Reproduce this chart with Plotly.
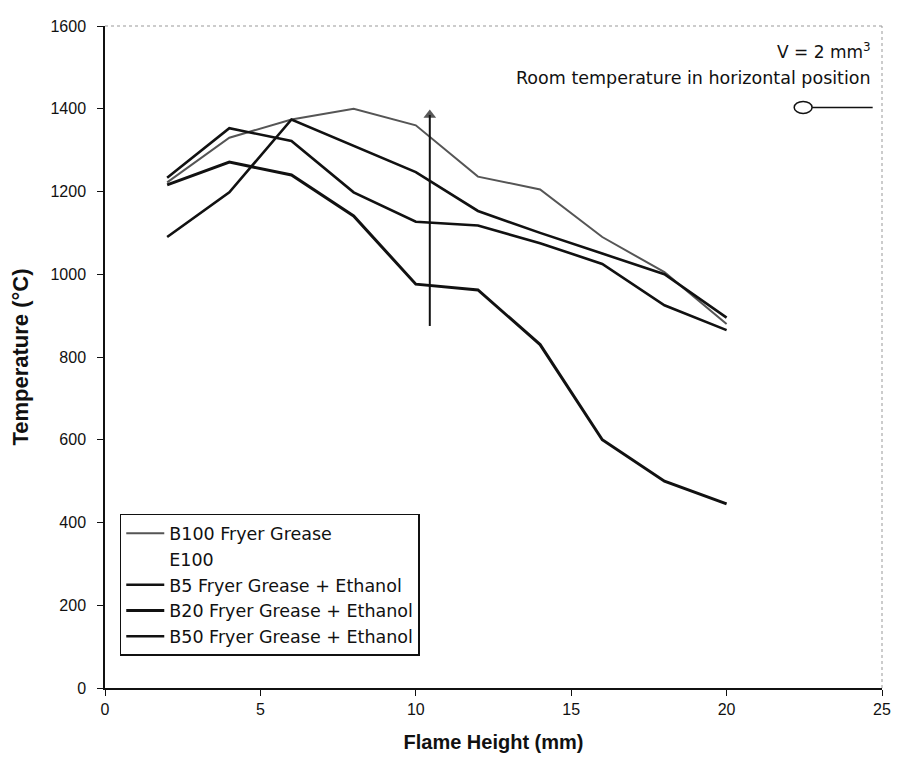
import plotly.graph_objects as go

heights = [2, 4, 6, 8, 10, 12, 14, 16, 18, 20]
b100 = [1222, 1330, 1374, 1400, 1360, 1236, 1205, 1090, 1005, 880]
e100 = []
b5 = [1233, 1353, 1322, 1198, 1127, 1118, 1075, 1025, 925, 865]
b20 = [1216, 1271, 1240, 1141, 976, 962, 830, 600, 500, 445]
b50 = [1090, 1198, 1374, 1311, 1247, 1153, 1100, 1050, 1000, 895]

names = ["B100 Fryer Grease", "E100", "B5 Fryer Grease + Ethanol",
         "B20 Fryer Grease + Ethanol", "B50 Fryer Grease + Ethanol"]

arrow_x = [10.45, 10.45]
arrow_y = [875, 1385]

TICKFONT = "Liberation Sans, Arial"
TEXTFONT = "DejaVu Sans, Liberation Sans"

fig = go.Figure()
fig.add_trace(go.Scatter(x=heights, y=b100, mode="lines", name=names[0],
                         line=dict(color="#555555", width=2)))
fig.add_trace(go.Scatter(x=e100 or [None], y=e100 or [None], mode="lines", name=names[1],
                         line=dict(color="rgba(0,0,0,0)", width=2)))
fig.add_trace(go.Scatter(x=heights, y=b5, mode="lines", name=names[2],
                         line=dict(color="#111111", width=2.6)))
fig.add_trace(go.Scatter(x=heights, y=b20, mode="lines", name=names[3],
                         line=dict(color="#111111", width=3)))
fig.add_trace(go.Scatter(x=heights, y=b50, mode="lines", name=names[4],
                         line=dict(color="#111111", width=2.6)))
# upward arrow
fig.add_trace(go.Scatter(x=arrow_x, y=arrow_y, mode="lines+markers", showlegend=False,
                         hoverinfo="skip",
                         line=dict(color="#111111", width=2),
                         marker=dict(symbol="triangle-up", size=[0, 11],
                                     color="#111111", line=dict(width=0))))

fig.add_annotation(x=0.988, y=0.962, xref="paper", yref="paper", xanchor="right",
                   yanchor="middle", showarrow=False,
                   text="V = 2 mm<sup>3</sup>", font=dict(size=17, color="#111111", family=TEXTFONT))
fig.add_annotation(x=0.988, y=0.921, xref="paper", yref="paper", xanchor="right",
                   yanchor="middle", showarrow=False,
                   text="Room temperature in horizontal position",
                   font=dict(size=17.5, color="#111111", family=TEXTFONT))
# small horizontal-position symbol
fig.add_shape(type="line", xref="paper", yref="paper", x0=0.908, x1=0.988,
              y0=0.877, y1=0.877, line=dict(color="#111111", width=1.5))
fig.add_shape(type="circle", xref="paper", yref="paper", x0=0.887, x1=0.910,
              y0=0.868, y1=0.886, line=dict(color="#111111", width=1.5),
              fillcolor="white")

fig.update_layout(
    width=893, height=758,
    margin=dict(l=95, r=16, t=10, b=78),
    paper_bgcolor="white", plot_bgcolor="white",
    font=dict(family=TICKFONT, size=16, color="#111111"),
    showlegend=True,
    legend=dict(x=0.019, y=0.263, xanchor="left", yanchor="top",
                bordercolor="#111111", borderwidth=1.5, bgcolor="white",
                font=dict(size=17.5, family=TEXTFONT), tracegroupgap=0,
                itemwidth=38),
    xaxis=dict(range=[0, 25], tickvals=[0, 5, 10, 15, 20, 25],
               ticks="outside", ticklen=6, tickcolor="#111111",
               ticklabeloverflow="allow",
               showline=True, linecolor="#111111", linewidth=1.5,
               mirror=False, showgrid=False, zeroline=False,
               title=dict(text="<b>Flame Height (mm)</b>", font=dict(size=20, family="Liberation Sans, Arial"), standoff=18),
               tickfont=dict(size=16)),
    yaxis=dict(range=[0, 1600], tickvals=list(range(0, 1601, 200)),
               ticks="outside", ticklen=6, tickcolor="#111111",
               ticklabelstandoff=8,
               showline=True, linecolor="#111111", linewidth=1.5,
               showgrid=False, zeroline=False,
               title=dict(text="<b>Temperature (°C)</b>", font=dict(size=22, family="Liberation Sans, Arial"), standoff=17),
               tickfont=dict(size=16)),
)
# dotted plot-area border on top and right
fig.add_shape(type="line", xref="paper", yref="paper", x0=0, x1=1, y0=1, y1=1,
              line=dict(color="#999999", width=1, dash="dot"))
fig.add_shape(type="line", xref="paper", yref="paper", x0=1, x1=1, y0=0, y1=1,
              line=dict(color="#999999", width=1, dash="dot"))

fig.write_html("out.html")
